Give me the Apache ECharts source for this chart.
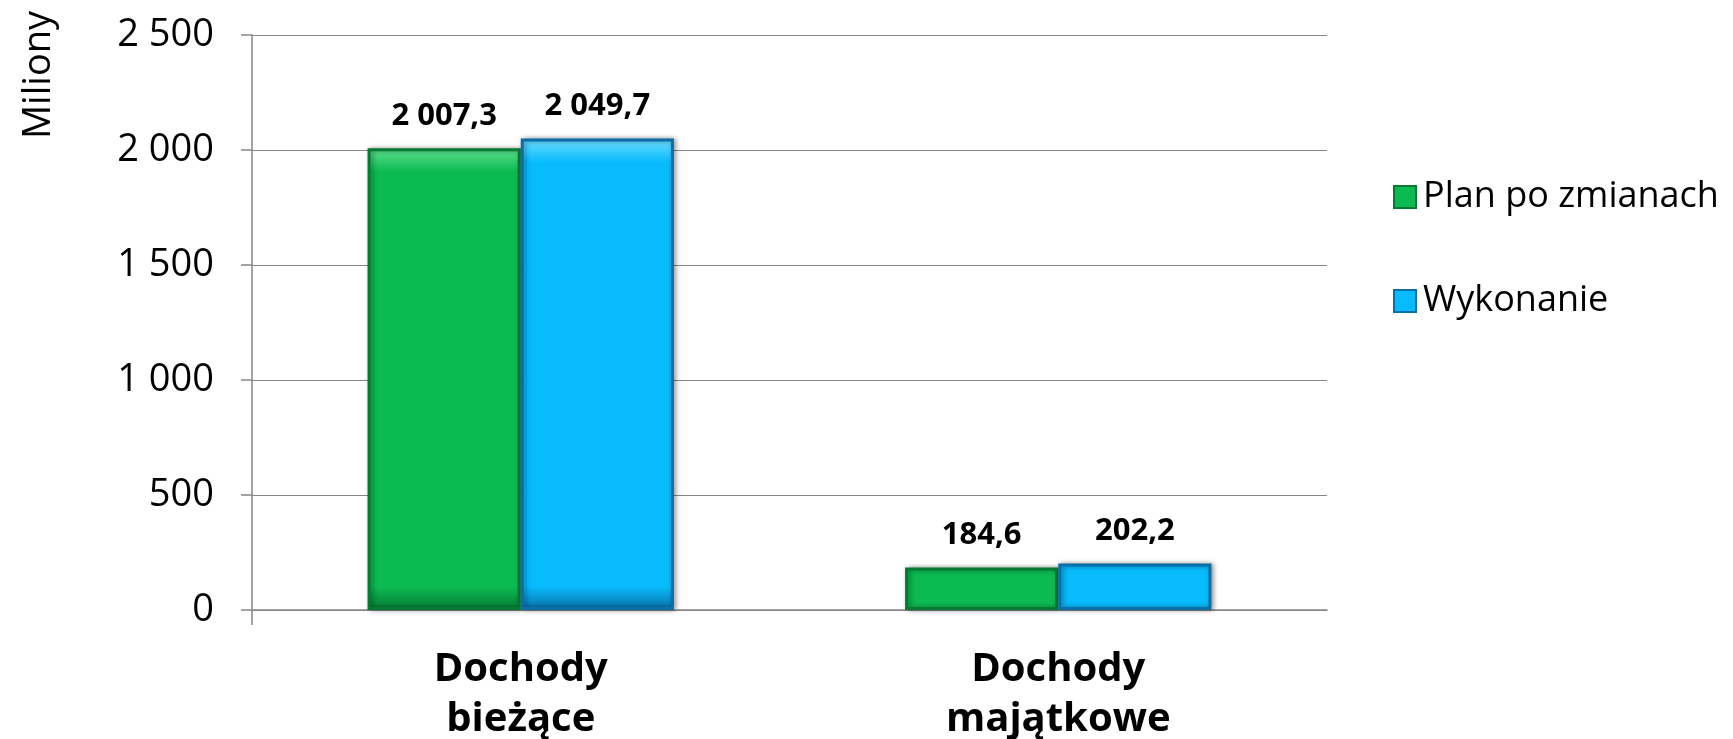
<!DOCTYPE html>
<html>
<head>
<meta charset="utf-8">
<script src="https://cdn.jsdelivr.net/npm/echarts@6/dist/echarts.min.js"></script>
<style>html,body{margin:0;padding:0;background:#fff;}#c{width:1733px;height:739px;}</style>
</head>
<body>
<div id="c"></div>
<script>
const categories = ['Dochody\nbieżące', 'Dochody\nmajątkowe'];
const seriesNames = ['Plan po zmianach', 'Wykonanie'];
const planValues = [2007.3, 184.6];
const wykonanieValues = [2049.7, 202.2];
const yTicks = [0, 500, 1000, 1500, 2000, 2500];
const yAxisTitle = 'Miliony';

const FONT = '"Open Sans", "Noto Sans", sans-serif';
const GRID = {left: 252, right: 406, top: 35, bottom: 129};
function fmt(v, dec) {
  const s = v.toFixed(dec);
  const parts = s.split('.');
  const int = parts[0].replace(/\B(?=(\d{3})+(?!\d))/g, ' ');
  return parts.length > 1 ? int + ',' + parts[1] : int;
}
function barStyle(main, light, dark) {
  return {
    color: new echarts.graphic.LinearGradient(0, 0, 0, 1, [
      {offset: 0, color: light},
      {offset: 0.05, color: main},
      {offset: 0.95, color: main},
      {offset: 1, color: dark}
    ]),
    borderColor: dark,
    borderWidth: 3,
    shadowColor: 'rgba(0,0,0,0.4)',
    shadowBlur: 5,
    shadowOffsetX: 2,
    shadowOffsetY: 0
  };
}
const chart = echarts.init(document.getElementById('c'), null, {renderer: 'canvas'});
const labelCfg = {
  show: true, position: 'top', distance: 17,
  fontFamily: FONT, fontWeight: 'bold', fontSize: 31, color: '#000',
  formatter: p => fmt(p.value, 1)
};
chart.setOption({
  animation: false,
  grid: {left: GRID.left, right: GRID.right, top: GRID.top, bottom: GRID.bottom, containLabel: false, outerBoundsMode: 'none'},
  legend: {
    orient: 'vertical', left: 1388, top: 174, itemGap: 68,
    itemWidth: 22, itemHeight: 22, icon: 'rect',
    textStyle: {fontFamily: FONT, fontSize: 36, color: '#000', padding: [0, 0, 0, 2]},
    data: seriesNames
  },
  graphic: [{
    type: 'text', x: 39, y: 75, rotation: Math.PI / 2,
    style: {text: yAxisTitle, fontFamily: FONT, fontSize: 38, fill: '#000', align: 'center', verticalAlign: 'middle'}
  }, {
    type: 'line', shape: {x1: GRID.left, y1: 739 - GRID.bottom, x2: GRID.left, y2: 739 - GRID.bottom + 15},
    style: {stroke: '#868686', lineWidth: 1.5}
  }],
  xAxis: {
    type: 'category', data: categories,
    axisLine: {show: true, lineStyle: {color: '#868686', width: 1.5}},
    axisTick: {show: false},
    axisLabel: {fontFamily: FONT, fontWeight: 'bold', fontSize: 40, color: '#000', lineHeight: 50, margin: 35}
  },
  yAxis: {
    type: 'value', min: yTicks[0], max: yTicks[yTicks.length - 1], interval: yTicks[1] - yTicks[0],
    axisLine: {show: true, lineStyle: {color: '#868686', width: 1.5}},
    axisTick: {show: true, length: 11, lineStyle: {color: '#868686', width: 1.5}},
    splitLine: {show: true, lineStyle: {color: '#868686', width: 1.2}},
    axisLabel: {fontFamily: FONT, fontSize: 38, color: '#000', margin: 38, formatter: v => fmt(v, 0)}
  },
  series: [
    {name: seriesNames[0], type: 'bar', data: planValues, barWidth: '28.5%', barGap: '0%',
     itemStyle: barStyle('#0cba52', '#5fe28e', '#067a33'), label: labelCfg},
    {name: seriesNames[1], type: 'bar', data: wykonanieValues, barWidth: '28.5%', barGap: '0%',
     itemStyle: barStyle('#08bbfc', '#6fdcff', '#0a6ea8'), label: labelCfg}
  ]
});
</script>
</body>
</html>
